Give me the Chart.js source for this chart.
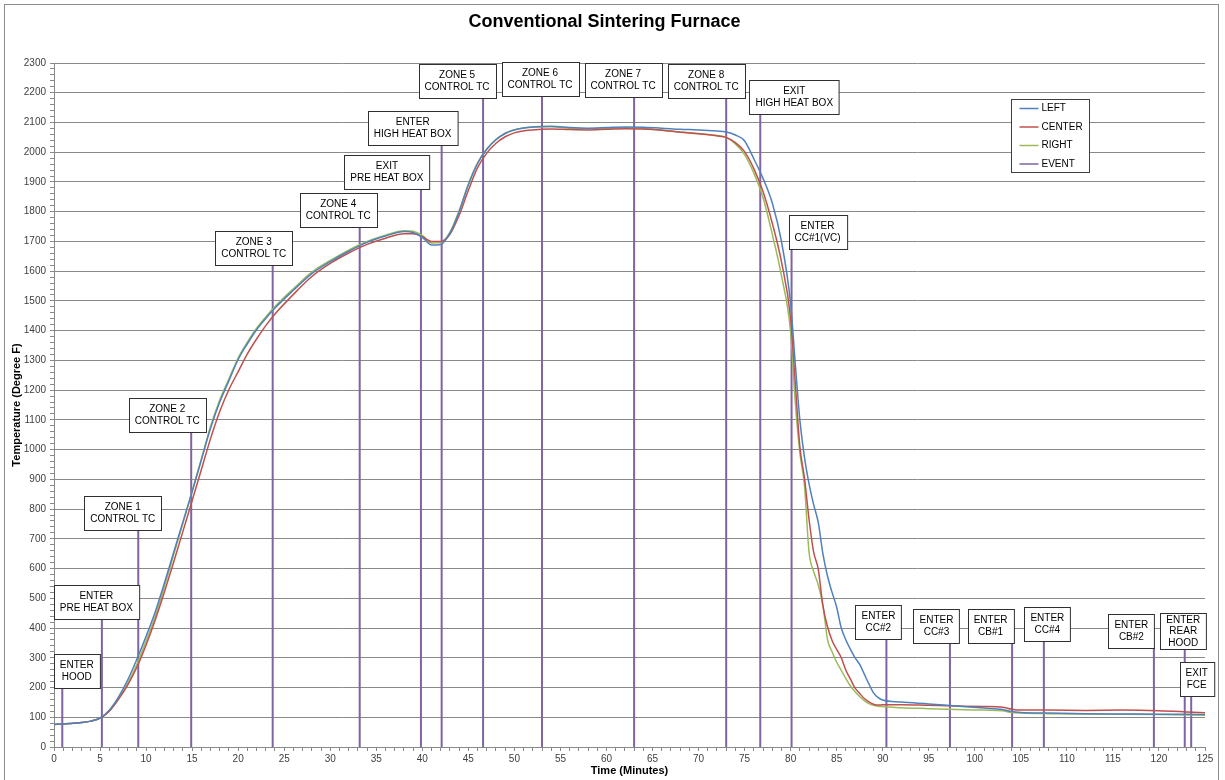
<!DOCTYPE html>
<html>
  <head>
    <meta charset="utf-8">
    <title>Conventional Sintering Furnace</title>
    <style>
      body { margin: 0; background: #fff; }
      #wrap { width: 1225px; height: 780px; }
    </style>
  </head>
  <body>
    <div id="wrap"><canvas id="chart0" width="1225" height="780"></canvas></div>

    <script src="https://cdn.jsdelivr.net/npm/chart.js@4.4.0/dist/chart.umd.min.js"></script>
    <script type="text/javascript">
      // time in minutes, shared by the three thermocouples
      var times = [0,1,2,3,4,5,6,7,8,9,10,11,12,13,14,15,16,17,18,19,20,21,22,23,24,
        26,28,30,32,34,36,38,39,40,41,42,43,44,45,46,47,48,49,50,
        52,54,56,58,60,62,64,66,68,70,72,73,74,75,76,77,78,79,80,
        80.5,81,81.5,82,82.5,83,83.5,84,84.5,85,85.5,86,86.5,87,87.5,88,88.5,89,89.5,90,
        92,95,98,101,103,104,105,108,112,116,120,123,125];

      var leftTemps = [76,77,79,82,87,97,124,168,225,295,372,455,552,655,757,858,965,1072,1160,1232,1303,1356,1403,1441,1476,
        1536,1592,1632,1667,1697,1718,1733,1730,1714,1688,1690,1728,1800,1890,1962,2010,2042,2063,2075,
        2085,2087,2083,2081,2083,2085,2084,2081,2077,2075,2071,2068,2058,2038,1978,1912,1830,1700,1490,
        1290,1100,975,885,815,755,650,575,520,470,400,360,328,300,278,245,212,182,166,158,
        151,145,138,131,126,119,116,114,112,111,110,110,109];

      var centerTemps = [76,77,80,82,87,97,120,160,208,268,343,428,522,622,725,828,932,1037,1128,1202,1262,1322,1372,1417,1456,
        1522,1582,1626,1661,1690,1711,1726,1726,1716,1700,1700,1724,1788,1872,1948,1997,2030,2052,2065,
        2075,2078,2076,2075,2077,2079,2078,2074,2067,2062,2055,2050,2032,2002,1945,1868,1762,1632,1440,
        1225,1010,905,765,655,598,475,405,358,328,300,258,228,198,180,163,152,144,141,142,
        142,140,138,136,134,127,124,124,123,124,122,118,115];

      var rightTemps = [76,77,80,82,87,97,121,162,213,278,356,440,540,646,752,860,968,1078,1167,1238,1308,1361,1408,1446,1481,
        1541,1597,1636,1671,1700,1721,1736,1734,1720,1695,1696,1731,1804,1893,1964,2011,2043,2064,2076,
        2085,2086,2081,2079,2080,2082,2080,2075,2068,2063,2056,2050,2028,1992,1930,1848,1725,1585,1395,
        1160,990,880,655,590,545,478,362,320,285,258,230,205,186,170,156,146,140,137,136,
        132,129,126,124,122,116,114,112,111,110,109,108,107];

      // events: time (min), height of the marker line (deg F), label
      var eventX = [0.9,5.2,9.15,14.9,23.75,33.2,39.85,42.1,46.6,53.0,63.0,73.0,76.7,80.1,90.4,97.3,104.05,107.5,119.45,122.8,123.5];
      var eventTop = [200,430,730,1060,1620,1750,1875,2025,2183,2189,2185,2183,2127,1673,362,351,351,357,333,330,172];
      var eventLabels = [
        ["ENTER","HOOD"], ["ENTER","PRE HEAT BOX"], ["ZONE 1","CONTROL TC"], ["ZONE 2","CONTROL TC"],
        ["ZONE 3","CONTROL TC"], ["ZONE 4","CONTROL TC"], ["EXIT","PRE HEAT BOX"], ["ENTER","HIGH HEAT BOX"],
        ["ZONE 5","CONTROL TC"], ["ZONE 6","CONTROL TC"], ["ZONE 7","CONTROL TC"], ["ZONE 8","CONTROL TC"],
        ["EXIT","HIGH HEAT BOX"], ["ENTER","CC#1(VC)"], ["ENTER","CC#2"], ["ENTER","CC#3"],
        ["ENTER","CB#1"], ["ENTER","CC#4"], ["ENTER","CB#2"], ["ENTER","REAR","HOOD"], ["EXIT","FCE"]
      ];
      // horizontal nudge of each label box (px), as placed by hand in the original
      var labelShift = [14.5,-5.5,-15.5,-24,-19,-21.5,-34,-29,-26,-2,-11,-20,34,26,-8,-13.5,-21.5,3.5,-22.5,-1.5,5.5];

      var FONT = "'Liberation Sans', Arial, sans-serif";
      Chart.defaults.font.family = FONT;
      Chart.defaults.color = '#404040';

      function toPoints(vals) {
        return times.map(function (t, i) { return { x: t, y: vals[i] }; });
      }
      var eventPoints = [];
      eventX.forEach(function (x, i) {
        eventPoints.push({ x: x, y: 0 }, { x: x, y: eventTop[i] }, { x: x, y: null });
      });

      var furnaceDecor = {
        id: 'furnaceDecor',
        beforeDraw: function (chart) {
          var ctx = chart.ctx;
          ctx.save();
          ctx.strokeStyle = '#8c8c8c';
          ctx.lineWidth = 1;
          ctx.strokeRect(4.5, 4.5, 1214, 800);
          ctx.restore();
        },
        afterDatasetsDraw: function (chart) {
          var ctx = chart.ctx, xs = chart.scales.x, ys = chart.scales.y, area = chart.chartArea;
          ctx.save();
          ctx.font = '10px ' + FONT;
          ctx.textAlign = 'center';
          ctx.textBaseline = 'middle';
          ctx.lineWidth = 1;
          eventLabels.forEach(function (lines, i) {
            var cx = xs.getPixelForValue(eventX[i]) + labelShift[i];
            var bottom = ys.getPixelForValue(eventTop[i]);
            var w = Math.max.apply(null, lines.map(function (l) { return ctx.measureText(l).width; })) + 12;
            var h = lines.length > 2 ? lines.length * 11.5 + 1.5 : lines.length * 12 + 10;
            var left = Math.round(cx - w / 2) + 0.5, top = Math.round(bottom - h) + 0.5;
            ctx.fillStyle = '#fff';
            ctx.fillRect(left, top, w, h);
            ctx.strokeStyle = '#303030';
            ctx.strokeRect(left, top, w, h);
            ctx.fillStyle = '#000';
            var lh = lines.length > 2 ? 11.5 : 12;
            var y0 = top + (h - lines.length * lh) / 2 + lh / 2;
            lines.forEach(function (l, j) { ctx.fillText(l, cx, y0 + j * lh); });
          });

          // legend
          var lx = Math.round(area.right - 194) + 0.5, ly = Math.round(area.top + 36) + 0.5;
          ctx.fillStyle = '#fff';
          ctx.fillRect(lx, ly, 78, 73);
          ctx.strokeStyle = '#404040';
          ctx.strokeRect(lx, ly, 78, 73);
          ctx.textAlign = 'left';
          chart.data.datasets.forEach(function (ds, i) {
            var yy = ly + 9 + i * 18.5;
            ctx.strokeStyle = ds.borderColor;
            ctx.lineWidth = 1.5;
            ctx.beginPath();
            ctx.moveTo(lx + 8, yy);
            ctx.lineTo(lx + 27, yy);
            ctx.stroke();
            ctx.fillStyle = '#000';
            ctx.fillText(ds.label, lx + 30, yy);
          });
          ctx.restore();
        }
      };

      var ctx0 = document.getElementById('chart0').getContext('2d');
      var chart0 = new Chart(ctx0, {
          type: 'line',
          data: {
              datasets: [{
                  label: 'LEFT',
                  borderColor: '#4F81BD',
                  borderWidth: 1.5,
                  data: toPoints(leftTemps),
                  cubicInterpolationMode: 'monotone'
              }, {
                  label: 'CENTER',
                  borderColor: '#C0504D',
                  borderWidth: 1.5,
                  data: toPoints(centerTemps),
                  cubicInterpolationMode: 'monotone'
              }, {
                  label: 'RIGHT',
                  borderColor: '#9BBB59',
                  borderWidth: 1.5,
                  data: toPoints(rightTemps),
                  cubicInterpolationMode: 'monotone'
              }, {
                  label: 'EVENT',
                  borderColor: '#8064A2',
                  borderWidth: 2,
                  data: eventPoints,
                  spanGaps: false,
                  tension: 0
              }]
          },
          options: {
              responsive: false,
              animation: false,
              devicePixelRatio: 1,
              elements: { point: { radius: 0, hoverRadius: 0 } },
              layout: { padding: { left: 4, right: 20, top: 0, bottom: 2 } },
              plugins: {
                  legend: { display: false },
                  tooltip: { enabled: false },
                  title: {
                      display: true,
                      text: 'Conventional Sintering Furnace',
                      color: '#000',
                      font: { size: 18, weight: 'bold' },
                      padding: { top: 11, bottom: 30.4 }
                  }
              },
              scales: {
                  x: {
                      type: 'linear',
                      min: 0,
                      max: 125,
                      afterFit: function (scale) { scale.height = 31; },
                      border: { color: '#898989' },
                      grid: { drawOnChartArea: false, tickLength: 4, color: '#898989' },
                      ticks: {
                          stepSize: 1,
                          autoSkip: false,
                          maxRotation: 0,
                          padding: 2,
                          font: { size: 10 },
                          callback: function (v) { return v % 5 === 0 ? v : ''; }
                      },
                      title: {
                          display: true,
                          text: 'Time (Minutes)',
                          color: '#000',
                          font: { size: 11, weight: 'bold' },
                          padding: { top: 0, bottom: 0 }
                      }
                  },
                  y: {
                      min: 0,
                      max: 2300,
                      afterFit: function (scale) { scale.width = 50; },
                      border: { color: '#898989' },
                      grid: {
                          tickLength: 4,
                          tickColor: '#898989',
                          color: function (c) {
                              return c.tick && c.tick.value % 100 === 0 ? '#898989' : 'rgba(0,0,0,0)';
                          }
                      },
                      ticks: {
                          stepSize: 20,
                          maxTicksLimit: 200,
                          autoSkip: false,
                          padding: 4,
                          font: { size: 10 },
                          callback: function (v) { return v % 100 === 0 ? v : ''; }
                      },
                      title: {
                          display: true,
                          text: 'Temperature (Degree F)',
                          color: '#000',
                          font: { size: 11, weight: 'bold' },
                          padding: { top: 6, bottom: 0 }
                      }
                  }
              }
          },
          plugins: [furnaceDecor]
      });
    </script>
  </body>
</html>
